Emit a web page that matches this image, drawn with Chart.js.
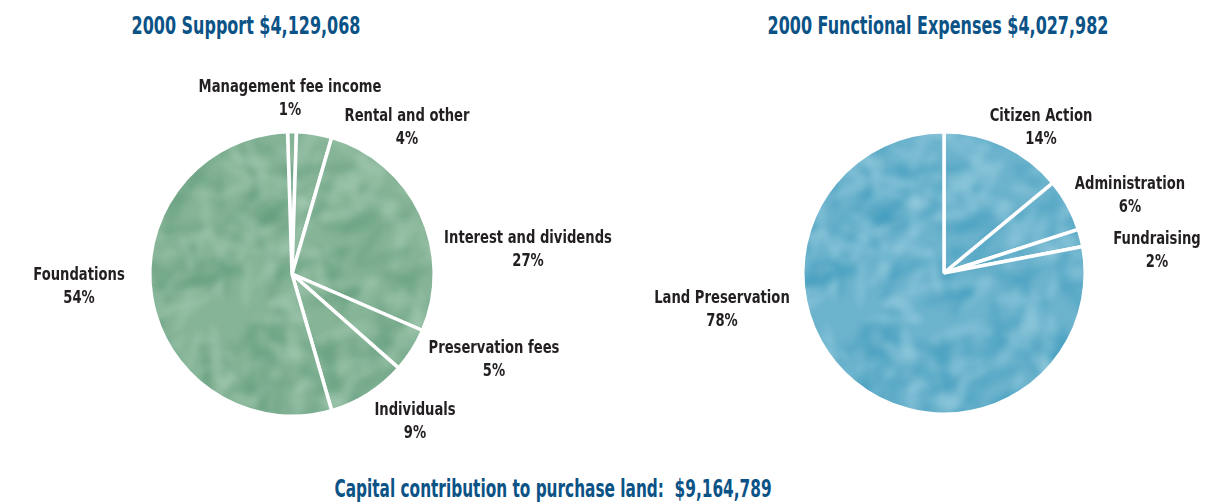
<!DOCTYPE html>
<html><head><meta charset="utf-8">
<script src="https://cdn.jsdelivr.net/npm/chart.js@4.4.1/dist/chart.umd.min.js"></script>
<style>
html,body{margin:0;padding:0;background:#fff;width:1229px;height:502px;overflow:hidden;}
.t{position:absolute;font-family:"DejaVu Sans Condensed","DejaVu Sans",sans-serif;font-weight:bold;color:#0b5386;white-space:nowrap;transform:translate(-50%,-50%) scaleX(0.71);}
.box{position:absolute;}
</style></head><body>
<div class="t" style="left:246px;top:25px;font-size:25px;">2000 Support $4,129,068</div>
<div class="t" style="left:938px;top:25px;font-size:25px;">2000 Functional Expenses $4,027,982</div>
<div class="t" style="left:553px;top:489px;font-size:24px;">Capital contribution to purchase land:&nbsp; $9,164,789</div>
<div class="box" style="left:0;top:60px;width:614px;height:400px;"><canvas id="c1"></canvas></div>
<div class="box" style="left:614px;top:60px;width:615px;height:400px;"><canvas id="c2"></canvas></div>
<script>
// Data
const supportCategories = ["Management fee income","Rental and other","Interest and dividends","Preservation fees","Individuals","Foundations"];
const supportValues = [1,4,27,5,9,54];
const expenseCategories = ["Citizen Action","Administration","Fundraising","Land Preservation"];
const expenseValues = [14,6,2,78];

// Label placement (page coordinates, styling only)
const supportLabelPos = [[290,88],[407,117],[528,239],[494,349],[415,411],[79,276]];
const expenseLabelPos = [[1041,117],[1130,185],[1157,240],[722,299]];

// Decorative foliage-like texture (styling only, deterministic)
function texture(base, light, dark){
  const s = 500, cv = document.createElement('canvas');
  cv.width = s; cv.height = s;
  const g = cv.getContext('2d');
  g.fillStyle = base; g.fillRect(0,0,s,s);
  g.filter = 'blur(3px)';
  for(let i=0;i<700;i++){
    const h1 = Math.abs(Math.sin(i*12.9898)*43758.5453)%1;
    const h2 = Math.abs(Math.sin(i*78.233)*12345.678)%1;
    const h3 = Math.abs(Math.sin(i*39.425)*24634.634)%1;
    const x = h1*s, y = h2*s, a = h3*Math.PI;
    g.save(); g.translate(x,y); g.rotate(a);
    g.globalAlpha = 0.35;
    g.fillStyle = (i%2) ? light : dark;
    g.beginPath(); g.ellipse(0,0,16+h3*14,3+h1*4,0,0,Math.PI*2); g.fill();
    g.restore();
  }
  return document.createElement('canvas').getContext('2d').createPattern(cv,'no-repeat');
}

function labelPlugin(cats, pos, offX, offY){
  return {
    id:'lbls',
    afterDraw(chart){
      const ctx = chart.ctx;
      const vals = chart.data.datasets[0].data;
      ctx.save();
      ctx.fillStyle = '#231f20';
      ctx.font = 'bold 17px "DejaVu Sans Condensed","DejaVu Sans",sans-serif';
      ctx.textAlign = 'center';
      ctx.textBaseline = 'middle';
      cats.forEach((c,i)=>{
        const x = pos[i][0]-offX, y = pos[i][1]-offY;
        ctx.save(); ctx.translate(x,y); ctx.scale(0.86,1);
        ctx.fillText(c, 0, 0);
        ctx.fillText(vals[i]+'%', 0, 23);
        ctx.restore();
      });
      ctx.restore();
    }
  };
}

function makePie(id, cats, vals, color, rotation, pad, pos, offX, offY){
  return new Chart(document.getElementById(id), {
    type:'pie',
    data:{labels:cats, datasets:[{data:vals, backgroundColor:color, borderColor:'#ffffff', borderWidth:3.5}]},
    options:{
      responsive:true, maintainAspectRatio:false, animation:false,
      rotation:rotation,
      layout:{padding:pad},
      plugins:{legend:{display:false}, tooltip:{enabled:false}, title:{display:false}}
    },
    plugins:[labelPlugin(cats,pos,offX,offY)]
  });
}

const greenFill = texture('#86b497','#a9cdb6','#5f9b7b');
const blueFill = texture('#6cb3cd','#9dd0e1','#3d9bbd');

makePie('c1', supportCategories, supportValues, greenFill, -1.8,
  {left:148, top:70, right:178, bottom:42}, supportLabelPos, 0, 60);
makePie('c2', expenseCategories, expenseValues, blueFill, 0,
  {left:187, top:70, right:142, bottom:44}, expenseLabelPos, 614, 60);
</script>
</body></html>
